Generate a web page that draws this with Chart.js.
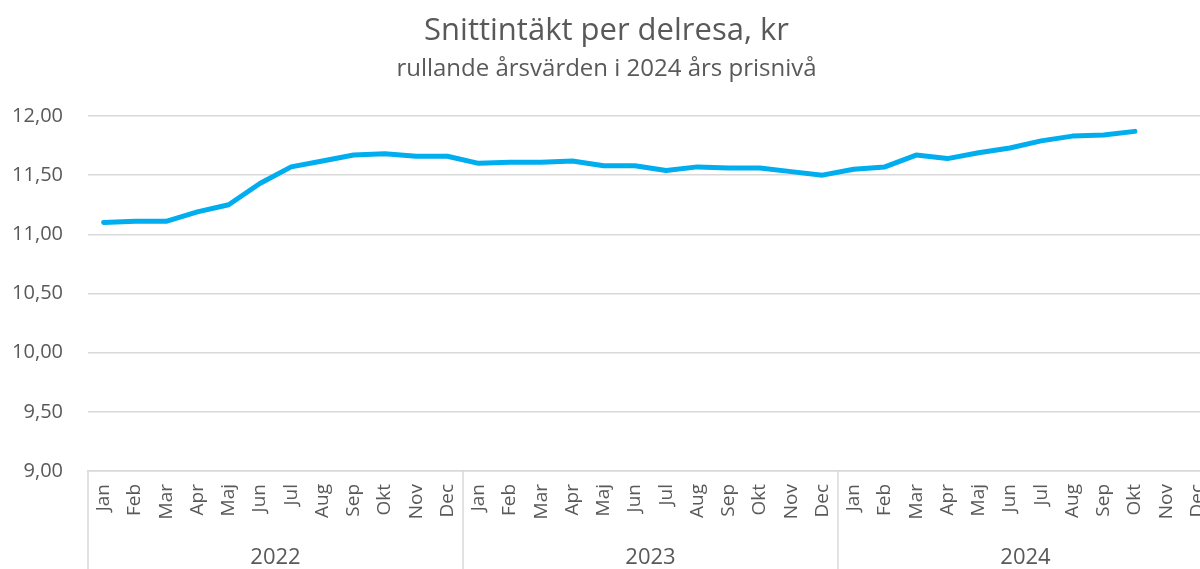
<!DOCTYPE html>
<html lang="sv">
<head>
<meta charset="utf-8">
<title>Snittintäkt per delresa</title>
<script src="https://cdn.jsdelivr.net/npm/chart.js@4"></script>
<style>
  html, body { margin:0; padding:0; background:#fff; overflow:hidden; }
  #wrap { width:1232px; height:569px; }
</style>
</head>
<body>
<div id="wrap"><canvas id="chart"></canvas></div>
<script>
// data (kr per delresa, rullande årsvärden)
const years = ['2022', '2023', '2024'];
const months = ['Jan','Feb','Mar','Apr','Maj','Jun','Jul','Aug','Sep','Okt','Nov','Dec'];
const values2022 = [11.10, 11.11, 11.11, 11.19, 11.25, 11.43, 11.57, 11.62, 11.67, 11.68, 11.66, 11.66];
const values2023 = [11.60, 11.61, 11.61, 11.62, 11.58, 11.58, 11.54, 11.57, 11.56, 11.56, 11.53, 11.50];
const values2024 = [11.55, 11.57, 11.67, 11.64, 11.69, 11.73, 11.79, 11.83, 11.84, 11.87, null, null];
const yTicks = [9, 9.5, 10, 10.5, 11, 11.5, 12];

const labels = years.flatMap(() => months);
const data = [...values2022, ...values2023, ...values2024];

const textColor = '#595959';
const gridColor = '#d9d9d9';
const fontFamily = '"Open Sans", "Segoe UI", sans-serif';

// year row under the month labels, with separators between years
const yearGroups = {
  id: 'yearGroups',
  afterDraw(chart) {
    const { ctx, chartArea } = chart;
    const x = chart.scales.x;
    const bottom = chart.height;
    const n = months.length;
    const half = (x.getPixelForValue(1) - x.getPixelForValue(0)) / 2;
    ctx.save();
    ctx.strokeStyle = gridColor;
    ctx.lineWidth = 1.5;
    ctx.fillStyle = textColor;
    ctx.font = '22px ' + fontFamily;
    ctx.textAlign = 'center';
    ctx.textBaseline = 'middle';
    years.forEach((yr, i) => {
      const left = x.getPixelForValue(i * n) - half;
      const right = x.getPixelForValue(i * n + n - 1) + half;
      const edges = i === years.length - 1 ? [left, right] : [left];
      edges.forEach(px => {
        ctx.beginPath();
        ctx.moveTo(Math.round(px), chartArea.bottom);
        ctx.lineTo(Math.round(px), bottom);
        ctx.stroke();
      });
      ctx.fillText(yr, (left + right) / 2, 558);
    });
    ctx.restore();
  }
};

new Chart(document.getElementById('chart'), {
  type: 'line',
  data: {
    labels,
    datasets: [{
      data,
      borderColor: '#00adef',
      borderWidth: 5,
      borderCapStyle: 'round',
      borderJoinStyle: 'round',
      pointRadius: 0,
      tension: 0,
      spanGaps: false
    }]
  },
  options: {
    responsive: true,
    maintainAspectRatio: false,
    animation: false,
    layout: { padding: { top: 0, right: 19, bottom: 0, left: 0 } },
    plugins: {
      legend: { display: false },
      tooltip: { enabled: false },
      title: {
        display: true,
        text: 'Snittintäkt per delresa, kr',
        color: textColor,
        font: { family: fontFamily, size: 31, weight: 'normal' },
        padding: { top: 13, bottom: 0 }
      },
      subtitle: {
        display: true,
        text: 'rullande årsvärden i 2024 års prisnivå',
        color: textColor,
        font: { family: fontFamily, size: 24, weight: 'normal' },
        padding: { top: 5, bottom: 32 }
      }
    },
    scales: {
      x: {
        offset: true,
        grid: { display: false },
        border: { display: true, color: gridColor, width: 1.5 },
        ticks: {
          autoSkip: false,
          minRotation: 90,
          maxRotation: 90,
          padding: 5,
          color: textColor,
          font: { family: fontFamily, size: 19 }
        },
        afterFit(scale) { scale.height = 98; }
      },
      y: {
        min: 9,
        max: 12,
        border: { display: false },
        grid: { color: gridColor, lineWidth: 1.5, drawTicks: false },
        afterBuildTicks(scale) { scale.ticks = yTicks.map(v => ({ value: v })); },
        ticks: {
          padding: 25,
          color: textColor,
          font: { family: fontFamily, size: 20 },
          callback: v => v.toFixed(2).replace('.', ',')
        },
        afterFit(scale) { scale.width = 88; }
      }
    }
  },
  plugins: [yearGroups]
});
</script>
</body>
</html>
